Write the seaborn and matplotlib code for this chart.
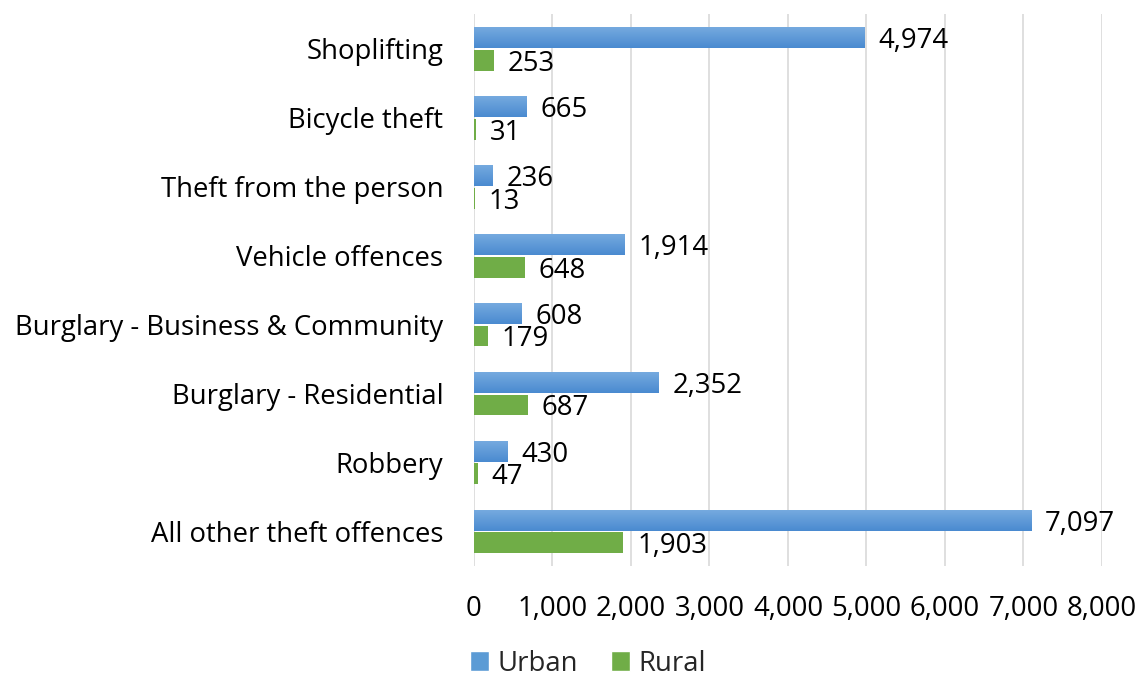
import matplotlib
matplotlib.use("Agg")
import matplotlib.pyplot as plt
import matplotlib.ticker as mticker
from matplotlib.colors import LinearSegmentedColormap
from matplotlib.patches import Patch
import numpy as np
import pandas as pd
import seaborn as sns

categories = [
    "Shoplifting",
    "Bicycle theft",
    "Theft from the person",
    "Vehicle offences",
    "Burglary - Business & Community",
    "Burglary - Residential",
    "Robbery",
    "All other theft offences",
]
urban = [4974, 665, 236, 1914, 608, 2352, 430, 7097]
rural = [253, 31, 13, 648, 179, 687, 47, 1903]
series = ["Urban", "Rural"]
x_ticks = [0, 1000, 2000, 3000, 4000, 5000, 6000, 7000, 8000]

sns.set_theme(style="white")
plt.rcParams["font.family"] = ["Open Sans", "DejaVu Sans"]

df = pd.DataFrame({
    "category": categories * 2,
    "series": ["Urban"] * len(categories) + ["Rural"] * len(categories),
    "value": urban + rural,
})

blue = "#5b9bd5"
green = "#70ad47"
fs = 19.8

fig = plt.figure(figsize=(11.41, 6.8), dpi=100)
ax = fig.add_axes([0.4154, 0.1676, 0.5504, 0.8114])

sns.barplot(data=df, x="value", y="category", hue="series", order=categories,
            hue_order=series, palette={"Urban": blue, "Rural": green},
            orient="h", width=0.66, gap=0.08, ax=ax, legend=False,
            saturation=1, linewidth=0)

# soft vertical gradient on the Urban bars
grad = LinearSegmentedColormap.from_list("urb", ["#75aadf", "#4a8ad0"])
gimg = np.linspace(0, 1, 64).reshape(-1, 1)
urban_bars = ax.containers[0]
for p in urban_bars.patches:
    x0, y0 = p.get_x(), p.get_y()
    w, h = p.get_width(), p.get_height()
    im = ax.imshow(gimg, cmap=grad, aspect="auto", origin="upper",
                   extent=(x0, x0 + w, y0 + h, y0), zorder=p.get_zorder() + 0.1,
                   interpolation="bilinear")
    im.set_clip_path(p)

for cont in ax.containers:
    anns = ax.bar_label(cont, labels=[f"{v:,.0f}" for v in cont.datavalues],
                        padding=10, fontsize=fs, color="black")
    for a in anns:
        a.xyann = (10, -2.5)

ax.set_xlim(0, 8000)
ax.set_ylim(len(categories) - 0.5, -0.5)
ax.set_xticks(x_ticks)
ax.xaxis.set_major_formatter(mticker.FuncFormatter(lambda v, _: f"{v:,.0f}"))
ax.grid(axis="x", color="#d9d9d9", linewidth=1.2)
ax.set_axisbelow(True)
for s in ax.spines.values():
    s.set_visible(False)
ax.tick_params(axis="x", length=0, pad=21, labelsize=fs, colors="black")
ax.tick_params(axis="y", length=0, pad=22, labelsize=fs, colors="black")
ax.set_xlabel("")
ax.set_ylabel("")

handles = [Patch(facecolor=blue, label="Urban"), Patch(facecolor=green, label="Rural")]
fig.legend(handles=handles, loc="lower center", bbox_to_anchor=(0.515, -0.033),
           ncol=2, frameon=False, fontsize=fs, handlelength=0.7, handleheight=0.7,
           handletextpad=0.3, columnspacing=1.2)

fig.savefig("out.png", dpi=100)
